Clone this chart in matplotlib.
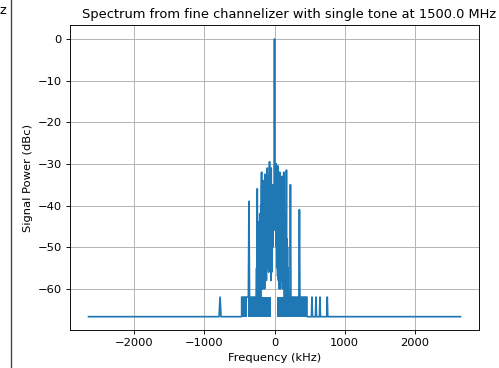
import numpy as np
import matplotlib
matplotlib.use("Agg")
import matplotlib.pyplot as plt
from matplotlib.lines import Line2D

# spectrum samples (kHz, dBc)
freq_khz = [
    -2650, -790, -776, -762,
    -468, -468, -372, -364, -356, -262, -255, -250, -246, -240,
    -236, -232, -228, -224, -220, -215, -210, -206, -202, -198,
    -195, -192, -188, -184, -181, -178, -175, -172, -169, -166,
    -163, -161, -158, -155, -152, -150, -147, -144, -141, -137,
    -134, -131, -128, -125, -122, -119, -116, -112, -110, -108,
    -106, -104, -101, -98, -95, -92, -89, -86, -83, -80,
    -77, -74, -71, -68, -65, -62, -59, -56, -53, -50,
    -47, -44, -42, -39, -36, -33, -30, -27, -24, -21,
    -18, -15, -12, -9, -6, -3, 0, 3, 6, 9,
    12, 15, 18, 21, 24, 27, 30, 33, 36, 39,
    42, 45, 47, 50, 53, 56, 59, 62, 65, 68,
    71, 75, 78, 82, 85, 88, 91, 95, 98, 102,
    105, 109, 112, 115, 118, 122, 126, 129, 132, 135,
    138, 142, 145, 148, 152, 156, 160, 165, 170, 173,
    176, 180, 185, 188, 192, 196, 200, 220, 227, 234,
    348, 355, 362, 463, 463, 527, 534, 541, 584, 591,
    598, 641, 648, 655, 745, 752, 759, 2650,
]
power_dbc = [
    -66.7, -66.7, -62.0, -66.7,
    -66.7, -62.0, -62.0, -39.0, -62.0, -62.0, -55.0, -62.0, -36.0, -62.0,
    -48.0, -60.0, -44.0, -62.0, -50.0, -62.0, -42.0, -58.0, -46.0, -64.0,
    -40.0, -55.0, -36.0, -32.0, -58.0, -42.0, -60.0, -44.0, -56.0, -38.0,
    -60.0, -34.0, -52.0, -40.0, -58.0, -38.0, -55.0, -42.0, -60.0, -32.5,
    -50.0, -40.0, -56.0, -36.0, -52.0, -40.0, -58.0, -34.0, -50.0, -38.0,
    -55.0, -31.0, -48.0, -36.0, -54.0, -33.0, -50.0, -40.0, -56.0, -36.0,
    -50.0, -38.0, -29.5, -48.0, -36.0, -55.0, -34.0, -52.0, -40.0, -58.0,
    -31.0, -50.0, -40.0, -56.0, -37.0, -52.0, -42.0, -50.0, -35.0, -47.0,
    -40.0, -46.0, -36.0, -44.0, -40.0, -42.0, 0.0, -42.0, -38.0, -45.0,
    -34.0, -46.0, -40.0, -48.0, -30.0, -50.0, -38.0, -52.0, -36.0, -55.0,
    -42.0, -57.0, -30.5, -52.0, -38.0, -58.0, -40.0, -55.0, -36.0, -60.0,
    -42.0, -32.0, -56.0, -40.0, -60.0, -36.0, -55.0, -40.0, -58.0, -36.0,
    -52.0, -33.0, -56.0, -42.0, -60.0, -40.0, -55.0, -44.0, -32.0, -58.0,
    -46.0, -62.0, -44.0, -60.0, -50.0, -62.0, -42.0, -58.0, -31.5, -60.0,
    -48.0, -62.0, -50.0, -62.0, -55.0, -63.0, -62.0, -62.0, -35.0, -62.0,
    -62.0, -41.0, -62.0, -62.0, -66.7, -66.7, -62.0, -66.7, -66.7, -62.0,
    -66.7, -66.7, -62.0, -66.7, -66.7, -62.0, -66.7, -66.7,
]

# dense spur floor regions (kHz) sitting between the noise floor and the spur level
floor_dbc = -66.7
spur_dbc = -62.0
block_start = [-468, -376, 38]
block_end = [-390, -47, 463]

W, H, DPI = 499, 368, 82.5
fig = plt.figure(figsize=(W / DPI, H / DPI), dpi=DPI)
ax = fig.add_axes([70 / W, 1 - 330 / H, 409 / W, 305 / H])

color = "#1f77b4"
for s, e in zip(block_start, block_end):
    ax.fill_between([s, e], floor_dbc, spur_dbc, color=color, lw=0)
ax.plot(freq_khz, power_dbc, color=color)

ax.set_xlim(-2915, 2915)
ax.set_ylim(-69.9, 3.35)
ax.set_xlabel("Frequency (kHz)")
ax.set_ylabel("Signal Power (dBc)")
ax.set_title("Spectrum from fine channelizer with single tone at 1500.0 MHz",
             fontsize=11.4, x=0.535)
ax.grid(True)

# remnants of the neighbouring panel in the cropped screenshot
fig.text(-1 / W, 1 - 11 / H, "z", fontsize=11.4, va="center", ha="left")
fig.add_artist(Line2D([10.5 / W, 10.5 / W], [0, 1], color="#444444", lw=1.2))

fig.savefig("out.png", dpi=DPI)
